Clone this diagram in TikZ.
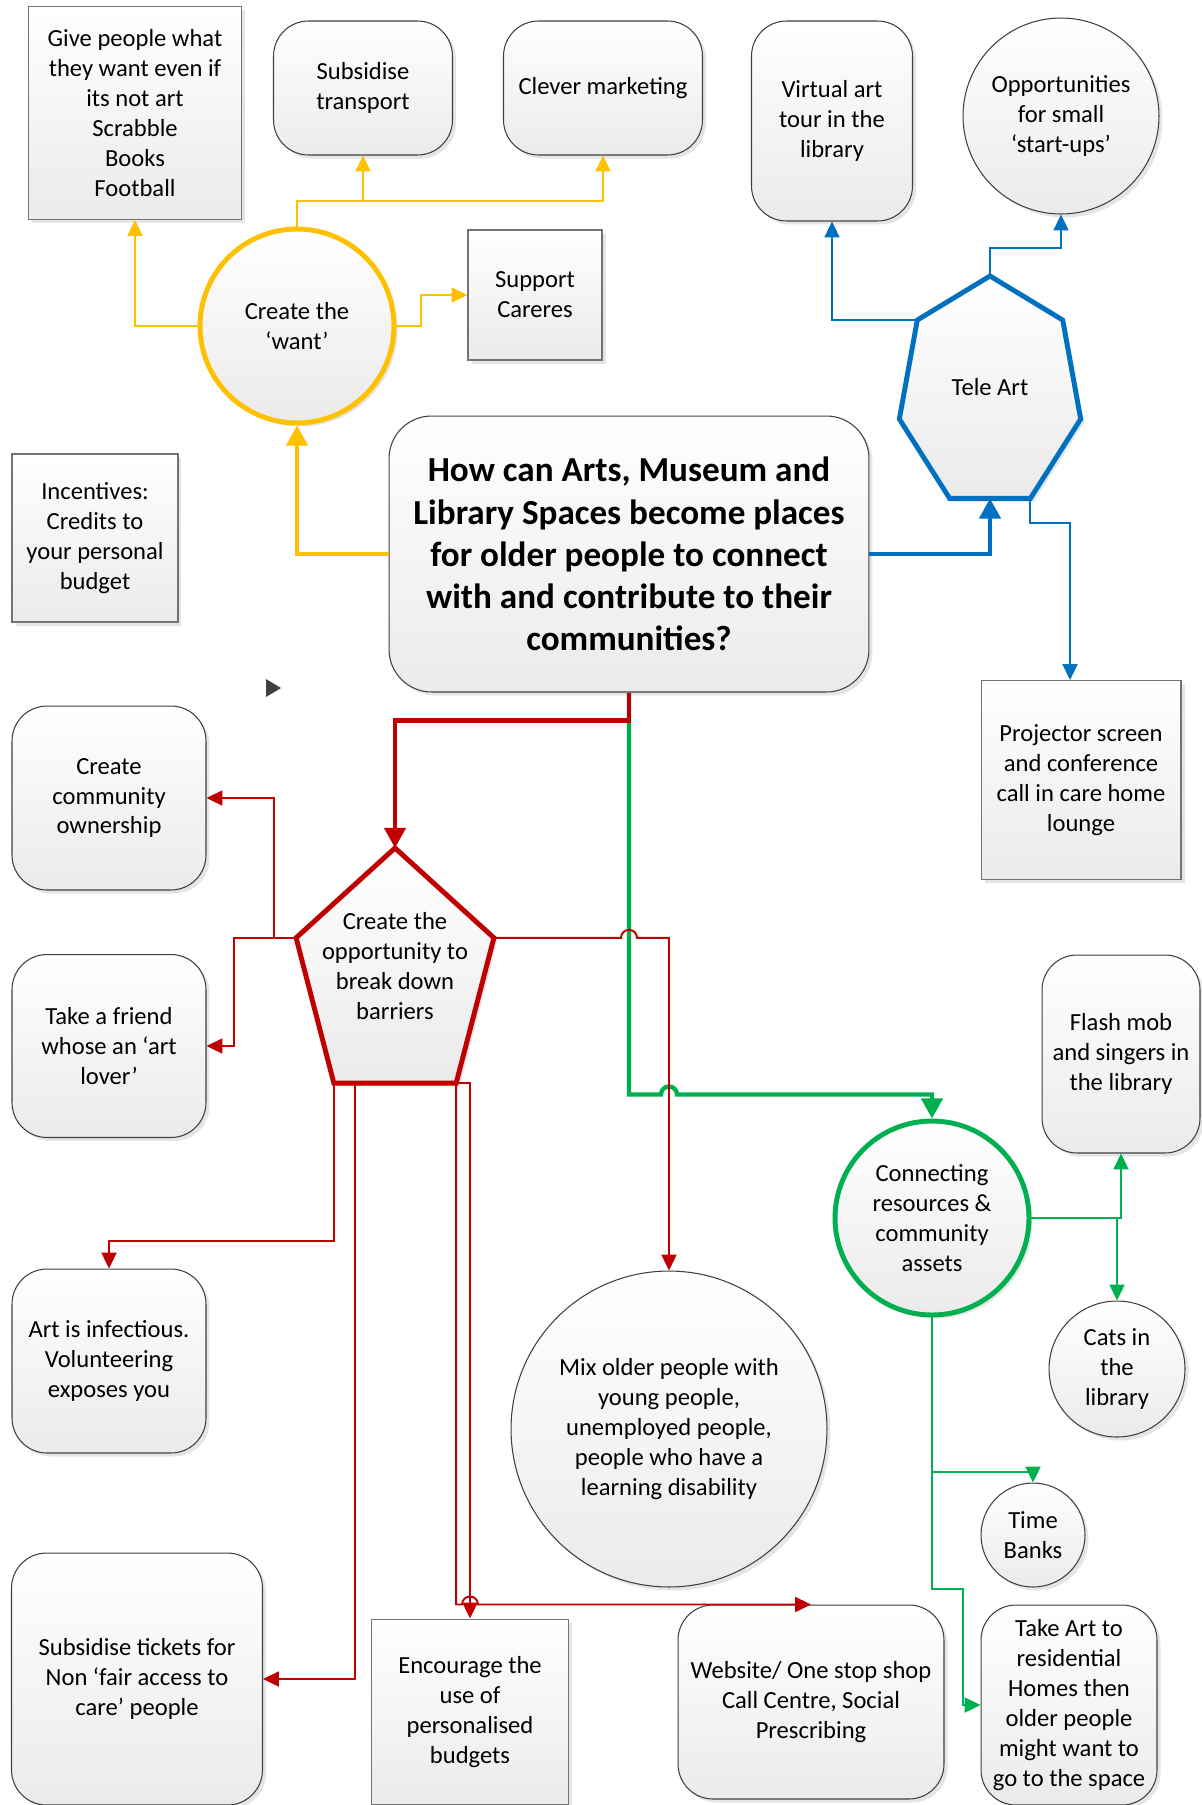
\documentclass[tikz,border=0pt]{standalone}
\usepackage{fontspec}
\setmainfont{Carlito}
\usetikzlibrary{arrows.meta,calc,shadows}

\definecolor{wantcol}{HTML}{FFC000}
\definecolor{telecol}{HTML}{0070C0}
\definecolor{barrcol}{HTML}{C00000}
\definecolor{linkcol}{HTML}{00B050}
\definecolor{edgecol}{HTML}{404040}

\tikzset{
  shaded/.style={top color=white, bottom color=black!8,
    drop shadow={shadow xshift=2pt, shadow yshift=-2pt, opacity=1, fill=black!10}},
  idea/.style={shaded, draw=edgecol, line width=0.6pt, align=center, inner sep=1pt,
    font=\fontsize{14pt}{17pt}\selectfont},
  sqbox/.style={idea, rectangle, draw=black!55},
  rbox/.style={idea, rectangle, rounded corners=0.7cm},
  bubble/.style={idea, circle},
  hub/.style={line width=2.8pt},
  hubtext/.style={align=center, inner sep=0pt, font=\fontsize{14pt}{17pt}\selectfont},
  thin link/.style={line width=1.1pt, -{Stealth[inset=0pt, length=9pt, width=8.5pt]}},
  thick link/.style={line width=2.5pt, -{Stealth[inset=0pt, length=11.5pt, width=12pt]}},
}

\begin{document}
\begin{tikzpicture}[x=0.02cm, y=-0.02cm]
  \useasboundingbox (0,0) rectangle (1201,1805);

  \node[sqbox, minimum width=4.26cm, minimum height=4.26cm] (give) at (135,113)
    {Give people what\\they want even if\\its not art\\Scrabble\\Books\\Football};
  \node[rbox, minimum width=3.58cm, minimum height=2.68cm] (sub) at (363,88) {Subsidise\\transport};
  \node[rbox, minimum width=3.98cm, minimum height=2.68cm] (clever) at (603,88) {Clever marketing};
  \node[rbox, minimum width=3.22cm, minimum height=4cm] (virtual) at (832,121) {Virtual art\\tour in the\\library};
  \node[bubble, minimum size=3.92cm] (opp) at (1061,116) {Opportunities\\for small\\‘start-ups’};
  \node[bubble, hub, draw=wantcol, minimum size=3.88cm] (want) at (297,326) {Create the\\‘want’};
  \node[sqbox, minimum width=2.68cm, minimum height=2.6cm] (support) at (535,295) {Support\\Careres};
  \node[sqbox, minimum width=3.32cm, minimum height=3.36cm] (incent) at (95,538)
    {Incentives:\\Credits to\\your personal\\budget};
  \node[rbox, rounded corners=0.85cm, minimum width=9.6cm, minimum height=5.52cm,
    font=\fontsize{20pt}{24pt}\selectfont\bfseries] (main) at (629,554)
    {How can Arts, Museum and\\Library Spaces become places\\for older people to connect\\with and contribute to their\\communities?};
  \node[sqbox, minimum width=4cm, minimum height=3.98cm] (proj) at (1081,780)
    {Projector screen\\and conference\\call in care home\\lounge};
  \node[rbox, minimum width=3.88cm, minimum height=3.68cm] (comm) at (109,798) {Create\\community\\ownership};
  \node[rbox, minimum width=3.88cm, minimum height=3.66cm] (friend) at (109,1046) {Take a friend\\whose an ‘art\\lover’};
  \node[rbox, minimum width=3.16cm, minimum height=3.96cm] (flash) at (1121,1054) {Flash mob\\and singers in\\the library};
  \node[bubble, hub, draw=linkcol, minimum size=3.88cm] (conn) at (932,1218)
    {Connecting\\resources \&\\community\\assets};
  \node[bubble, minimum size=2.72cm] (cats) at (1117,1369) {Cats in\\the\\library};
  \node[bubble, minimum size=2.08cm] (time) at (1033,1535) {Time\\Banks};
  \node[rbox, minimum width=3.88cm, minimum height=3.68cm] (art) at (109,1361)
    {Art is infectious.\\Volunteering\\exposes you};
  \node[bubble, minimum size=6.32cm] (mix) at (669,1429)
    {Mix older people with\\young people,\\unemployed people,\\people who have a\\learning disability};
  \node[rbox, minimum width=5.02cm, minimum height=5.04cm] (tickets) at (137,1679)
    {Subsidise tickets for\\Non ‘fair access to\\care’ people};
  \node[sqbox, minimum width=3.94cm, minimum height=3.72cm] (enc) at (470,1712)
    {Encourage the\\use of\\personalised\\budgets};
  \node[rbox, minimum width=5.32cm, minimum height=3.88cm] (web) at (811,1702)
    {Website/ One stop shop\\Call Centre, Social\\Prescribing};
  \node[rbox, minimum width=3.52cm, minimum height=4cm] (takeart) at (1069,1705)
    {Take Art to\\residential\\Homes then\\older people\\might want to\\go to the space};

  \foreach \k in {0,...,6}
    \coordinate (tele-\k) at ($(990,393)+({93*cos(90+\k*360/7)},{-117*sin(90+\k*360/7)})$);
  \draw[shaded, hub, draw=telecol] (tele-0) -- (tele-1) -- (tele-2) -- (tele-3)
    -- (tele-4) -- (tele-5) -- (tele-6) -- cycle;
  \node[hubtext] (tele) at (990,387) {Tele Art};

  \foreach \k in {0,...,4}
    \coordinate (pent-\k) at ($(395,978)+({104*cos(90+\k*72)},{-130*sin(90+\k*72)})$);
  \draw[shaded, hub, draw=barrcol] (pent-0) -- (pent-1) -- (pent-2) -- (pent-3) -- (pent-4) -- cycle;
  \node[hubtext] (barr) at (395,966) {Create the\\opportunity to\\break down\\barriers};

  \fill[edgecol] (266,679) -- (281,688) -- (266,697) -- cycle;

  \coordinate (split) at ($(main.south)+(0,28)$);
  \coordinate (gbend) at ($(main.south)+(0,402)$);

  \draw[thick link, wantcol] (main.west) -| (want.south);
  \draw[thin link, wantcol] (want.north) -- ++(0,-26) -| (sub.south);
  \draw[thin link, wantcol] (want.north) -- ++(0,-26) -| (clever.south);
  \draw[thin link, wantcol] (want.west) -| (give.south);
  \draw[thin link, wantcol] (want.east) -- ++(25,0) |- (support.west);

  \draw[thick link, telecol] (main.east) -| ($(tele-3)!0.5!(tele-4)$);
  \draw[thin link, telecol] (tele-1) -| (virtual.south);
  \draw[thin link, telecol] (tele-0) -- ++(0,-28) -| (opp.south);
  \draw[thin link, telecol] (tele-4) -- ++(0,25) -| ($(proj.north)+(-11,0)$);

  % green first, the red branch runs over its start
  \draw[thick link, linkcol] (main.south) -- (gbend) -- ($(gbend -| mix.north)+(-8,0)$)
    arc[start angle=180, end angle=0, radius=0.16cm] -| (conn.north);
  \draw[thin link, linkcol] (conn.east) -| (flash.south);
  \draw[thin link, linkcol] (conn.east) -| (cats.north);
  \draw[thin link, linkcol] (conn.south) -- ++(0,155) -| (time.north);
  \draw[thin link, linkcol] (conn.south) -- ++(0,272) -- ++(31,0) |- (takeart.west);

  \draw[thick link, barrcol] (main.south) -- (split) -| (pent-0);
  \draw[thin link, barrcol] (pent-1) -- ++(-22,0) |- (comm.east);
  \draw[thin link, barrcol] (pent-1) -- ++(-62,0) |- (friend.east);
  \draw[thin link, barrcol] (pent-4) -- ($(pent-4 -| split)+(-8,0)$)
    arc[start angle=180, end angle=0, radius=0.16cm] -| (mix.north);
  \draw[thin link, barrcol] (pent-2) -- ++(0,158) -| (art.north);
  \draw[thin link, barrcol] ($(pent-2)!0.17!(pent-3)$) |- (tickets.east);
  \draw[thin link, barrcol] (pent-3) -| (enc.north);
  \draw[thin link, barrcol] (pent-3) |- ($(enc.north |- web.north)+(-8,0)$)
    arc[start angle=180, end angle=0, radius=0.16cm] -- (web.north);
\end{tikzpicture}
\end{document}
